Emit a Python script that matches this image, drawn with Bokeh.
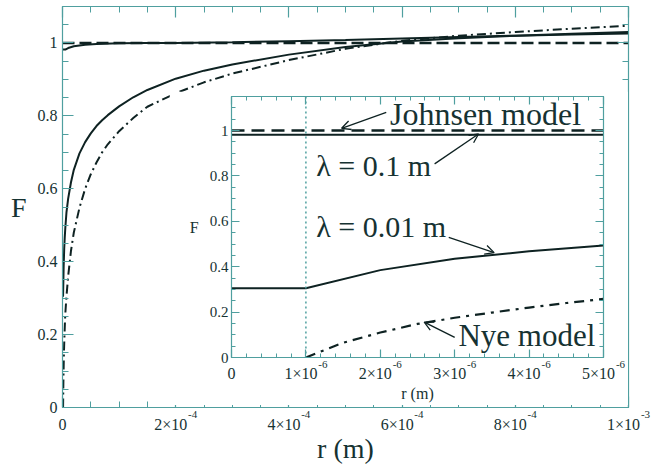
from bokeh.plotting import figure
from bokeh.layouts import column
from bokeh.models import (FixedTicker, LinearAxis, Range1d, Label, Arrow, OpenHead,
                          Span, CustomJSTickFormatter)
from bokeh.embed import file_html
from bokeh.resources import INLINE

# ---------------- data ----------------
lam001_r = [0, 1e-6, 2e-6, 3e-6, 4e-6, 5e-6, 7e-6, 1e-5, 1.5e-5, 2e-5, 3e-5, 4e-5, 5e-5,
            6e-5, 7e-5, 8e-5, 1e-4, 1.25e-4, 1.5e-4, 2e-4, 2.5e-4, 3e-4, 4e-4, 5e-4, 6e-4,
            7e-4, 8e-4, 9e-4, 1e-3]
lam001_F = [0.305, 0.305, 0.385, 0.435, 0.468, 0.493, 0.535, 0.573, 0.618, 0.652, 0.697,
            0.728, 0.752, 0.772, 0.788, 0.802, 0.826, 0.851, 0.871, 0.902, 0.924, 0.941,
            0.968, 0.989, 1.004, 1.013, 1.02, 1.025, 1.03]

lam01_r = [0, 5e-6, 1e-5, 2e-5, 4e-5, 6e-5, 1e-4, 1.5e-4, 2e-4, 3e-4, 4e-4, 5e-4, 6e-4,
           7e-4, 8e-4, 9e-4, 1e-3]
lam01_F = [0.982, 0.982, 0.986, 0.991, 0.995, 0.997, 0.999, 1.0, 1.0, 1.002, 1.005, 1.008,
           1.012, 1.016, 1.02, 1.023, 1.026]

nye_r = [1e-6, 1.5e-6, 2e-6, 2.5e-6, 3e-6, 3.5e-6, 4e-6, 4.5e-6, 5e-6, 7e-6, 1e-5, 1.5e-5,
         2e-5, 3e-5, 4e-5, 5e-5, 6e-5, 7e-5, 8e-5, 1e-4, 1.25e-4, 1.5e-4, 2e-4, 2.5e-4,
         3e-4, 4e-4, 5e-4, 6e-4, 7e-4, 8e-4, 9e-4, 1e-3]
nye_F = [0.0, 0.065, 0.11, 0.148, 0.175, 0.198, 0.22, 0.24, 0.258, 0.305, 0.36, 0.43,
         0.48, 0.548, 0.6, 0.64, 0.672, 0.7, 0.722, 0.758, 0.794, 0.825, 0.862, 0.892,
         0.916, 0.953, 0.984, 1.006, 1.02, 1.03, 1.039, 1.047]

johnsen_r = [0, 1e-3]
johnsen_F = [1.0, 1.0]

inset_marker_r = 1e-6

main_x_ticks = [0, 2e-4, 4e-4, 6e-4, 8e-4, 1e-3]
main_x_tick_base = ["0", "2×10", "4×10", "6×10", "8×10", "1×10"]
main_x_tick_exp = ["", "-4", "-4", "-4", "-4", "-3"]
main_x_minor = [0, 5e-5, 1e-4, 1.5e-4, 2e-4, 2.5e-4, 3e-4, 3.5e-4, 4e-4, 4.5e-4, 5e-4,
                5.5e-4, 6e-4, 6.5e-4, 7e-4, 7.5e-4, 8e-4, 8.5e-4, 9e-4, 9.5e-4, 1e-3]
y_ticks = [0, 0.2, 0.4, 0.6, 0.8, 1.0]
y_tick_labels = ["0", "0.2", "0.4", "0.6", "0.8", "1"]
y_minor = [0, 0.05, 0.1, 0.15, 0.2, 0.25, 0.3, 0.35, 0.4, 0.45, 0.5, 0.55, 0.6, 0.65,
           0.7, 0.75, 0.8, 0.85, 0.9, 0.95, 1.0, 1.05, 1.1, 1.15]

inset_x_ticks = [0, 1e-6, 2e-6, 3e-6, 4e-6, 5e-6]
inset_x_tick_base = ["0", "1×10", "2×10", "3×10", "4×10", "5×10"]
inset_x_tick_exp = ["", "-6", "-6", "-6", "-6", "-6"]
inset_x_minor = [0, 2e-7, 4e-7, 6e-7, 8e-7, 1e-6, 1.2e-6, 1.4e-6, 1.6e-6, 1.8e-6, 2e-6,
                 2.2e-6, 2.4e-6, 2.6e-6, 2.8e-6, 3e-6, 3.2e-6, 3.4e-6, 3.6e-6, 3.8e-6,
                 4e-6, 4.2e-6, 4.4e-6, 4.6e-6, 4.8e-6, 5e-6]

# ---------------- style ----------------
TEAL = "#4f9f9f"
INK = "#163232"
LINE = "#0e2222"
FONT = "Liberation Serif"
EXP_SHIFT = 17   # px, centre of the exponent right of the tick
BASE_SHIFT = -5  # px, centre of the mantissa left of the tick


def empty_fmt():
    return CustomJSTickFormatter(code="return ''")


def style_axis(ax, ticks, minor, major_len, minor_len, labels=None, size="16px"):
    ax.ticker = FixedTicker(ticks=ticks, minor_ticks=minor)
    ax.axis_line_color = TEAL
    ax.axis_line_width = 1.2
    ax.major_tick_line_color = TEAL
    ax.minor_tick_line_color = TEAL
    ax.major_tick_line_width = 1.2
    ax.major_tick_in = major_len
    ax.major_tick_out = 0
    ax.minor_tick_in = minor_len
    ax.minor_tick_out = 0
    ax.major_label_text_font = FONT
    ax.major_label_text_font_size = size
    ax.major_label_text_color = INK
    ax.axis_label_text_font = FONT
    ax.axis_label_text_font_style = "normal"
    ax.axis_label_text_color = INK
    if labels is None:
        ax.formatter = empty_fmt()
        ax.major_label_standoff = 0
    else:
        ax.major_label_overrides = dict(zip(ticks, labels))


def label_axis(positions, texts, size, standoff):
    ax = LinearAxis(ticker=FixedTicker(ticks=positions, minor_ticks=[]),
                    major_label_overrides=dict(zip(positions, texts)))
    ax.axis_line_color = None
    ax.major_tick_line_color = None
    ax.minor_tick_line_color = None
    ax.major_tick_in = 0
    ax.major_tick_out = 0
    ax.minor_tick_in = 0
    ax.minor_tick_out = 0
    ax.major_label_standoff = standoff
    ax.major_label_text_font = FONT
    ax.major_label_text_font_size = size
    ax.major_label_text_color = INK
    ax.axis_label_text_font = FONT
    ax.axis_label_text_font_style = "normal"
    ax.axis_label_text_color = INK
    return ax


def add_power_labels(fig, frame_w, ticks, bases, exps, exp_std, base_std,
                     title, title_size, title_std):
    px = (fig.x_range.end - fig.x_range.start) / frame_w
    exp_pos, exp_txt = [], []
    for t, e in zip(ticks, exps):
        if not e:
            continue
        pos = t + EXP_SHIFT * px
        if pos <= fig.x_range.end:
            exp_pos.append(pos)
            exp_txt.append(e)
        else:
            # exponent that falls right of the frame: an (unclipped) side-panel label
            fig.add_layout(Label(x=t, y=fig.y_range.start, text=e, x_offset=EXP_SHIFT,
                                 y_offset=-exp_std, text_align="center",
                                 text_baseline="top", text_font=FONT,
                                 text_font_size="11px", text_color=INK), "right")
    base_pos = [t + BASE_SHIFT * px if e else t for t, e in zip(ticks, exps)]
    ax_exp = label_axis(exp_pos, exp_txt, "11px", exp_std)
    fig.add_layout(ax_exp, "below")
    ax_base = label_axis(base_pos, bases, "16px", base_std)
    ax_base.axis_label = title
    ax_base.axis_label_text_font_size = title_size
    ax_base.axis_label_standoff = title_std
    fig.add_layout(ax_base, "below")


# ---------------- main plot ----------------
MAIN_FRAME_W = 571
p = figure(width=654, height=466, x_range=Range1d(0, 1e-3), y_range=Range1d(0, 1.1),
           output_backend="svg", toolbar_location=None,
           min_border_left=62, min_border_right=21, min_border_top=6, min_border_bottom=59)
p.grid.visible = False
p.outline_line_color = TEAL
p.background_fill_color = "white"
p.border_fill_color = "white"

style_axis(p.xaxis[0], main_x_ticks, main_x_minor, 11, 6)
style_axis(p.yaxis[0], y_ticks, y_minor, 11, 6, labels=y_tick_labels)
p.yaxis.axis_label = "F"
p.yaxis.axis_label_text_font_size = "28px"
p.yaxis.axis_label_orientation = "horizontal"
p.yaxis.axis_label_standoff = 8
p.yaxis.major_label_standoff = 5

top_ax = LinearAxis()
style_axis(top_ax, main_x_ticks, main_x_minor, 11, 6)
p.add_layout(top_ax, "above")
right_ax = LinearAxis()
style_axis(right_ax, y_ticks, y_minor, 11, 6)
p.add_layout(right_ax, "right")

add_power_labels(p, MAIN_FRAME_W, main_x_ticks, main_x_tick_base, main_x_tick_exp,
                 3, -5, "r (m)", "28px", -3)

p.line(johnsen_r, johnsen_F, line_color=LINE, line_width=2.5, line_dash="12 5")
p.line(lam01_r, lam01_F, line_color=LINE, line_width=2)
p.line(lam001_r, lam001_F, line_color=LINE, line_width=2)
p.line(nye_r, nye_F, line_color=LINE, line_width=2, line_dash="9 4 2 4")

# ---------------- inset ----------------
INSET_FRAME_W = 372
inset = figure(frame_width=INSET_FRAME_W, frame_height=261,
               x_range=Range1d(0, 5e-6), y_range=Range1d(0, 1.15),
               output_backend="svg", toolbar_location=None,
               min_border_left=61, min_border_right=26, min_border_top=5, min_border_bottom=48,
               styles={"position": "absolute", "left": "169px", "top": "91px"})
inset.grid.visible = False
inset.outline_line_color = TEAL
inset.background_fill_color = "white"
inset.border_fill_color = "white"

style_axis(inset.xaxis[0], inset_x_ticks, inset_x_minor, 8, 4)
style_axis(inset.yaxis[0], y_ticks, y_minor, 8, 4, labels=y_tick_labels, size="15px")
inset.yaxis.axis_label = "F"
inset.yaxis.axis_label_text_font_size = "16px"
inset.yaxis.axis_label_orientation = "horizontal"
inset.yaxis.axis_label_standoff = 8
inset.yaxis.major_label_standoff = 3

itop = LinearAxis()
style_axis(itop, inset_x_ticks, inset_x_minor, 8, 4)
inset.add_layout(itop, "above")
iright = LinearAxis()
style_axis(iright, y_ticks, y_minor, 8, 4)
inset.add_layout(iright, "right")

add_power_labels(inset, INSET_FRAME_W, inset_x_ticks, inset_x_tick_base, inset_x_tick_exp,
                 3, -6, "r (m)", "16px", 0)

inset.add_layout(Span(location=inset_marker_r, dimension="height", line_color=TEAL,
                      line_width=1.5, line_dash="2 3"))
inset.line(johnsen_r, johnsen_F, line_color=LINE, line_width=2.5, line_dash="13 7")
inset.line(lam01_r, lam01_F, line_color=LINE, line_width=2)
inset.line(lam001_r, lam001_F, line_color=LINE, line_width=2)
inset.line(nye_r, nye_F, line_color=LINE, line_width=2.2, line_dash="10 6 3 6")

ann = dict(text_font=FONT, text_color=INK, text_baseline="alphabetic")
inset.add_layout(Label(x=2.13e-6, y=1.075, text="Johnsen model", text_font_size="32px", **ann))
inset.add_layout(Label(x=1.14e-6, y=0.845, text="λ = 0.1 m", text_font_size="30px", **ann))
inset.add_layout(Label(x=1.14e-6, y=0.578, text="λ = 0.01 m", text_font_size="30px", **ann))
inset.add_layout(Label(x=3.05e-6, y=0.098, text="Nye model", text_font_size="31px", **ann))


def arrow(x0, y0, x1, y1):
    inset.add_layout(Arrow(end=OpenHead(size=9, line_color=LINE, line_width=1.3),
                           x_start=x0, y_start=y0, x_end=x1, y_end=y1,
                           line_color=LINE, line_width=1.3))


arrow(2.08e-6, 1.08, 1.48e-6, 1.01)
arrow(2.73e-6, 0.853, 3.32e-6, 0.985)
arrow(2.92e-6, 0.529, 3.53e-6, 0.462)
arrow(3.0e-6, 0.089, 2.59e-6, 0.156)

layout = column(p, inset, styles={"position": "relative"})
open("out.html", "w").write(file_html(layout, INLINE))
